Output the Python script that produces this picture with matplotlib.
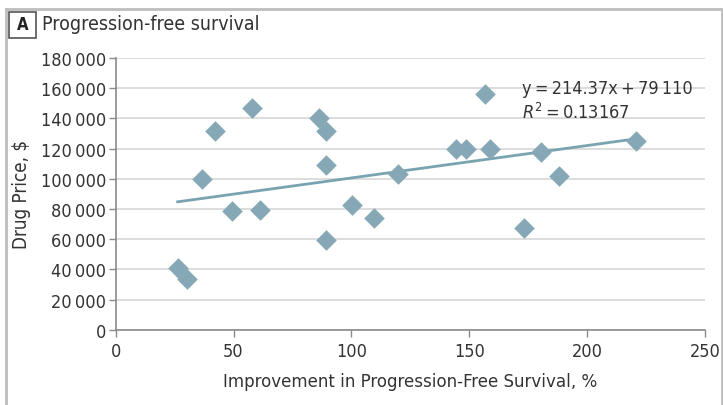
import matplotlib
matplotlib.use("Agg")
import matplotlib.pyplot as plt
from matplotlib.patches import Rectangle
from matplotlib.lines import Line2D
import numpy as np

plt.rcParams['font.family'] = ['DejaVu Sans']
plt.rcParams['font.stretch'] = 'condensed'

# Data
pfs_improvement = [26.3, 30.1, 36.5, 42.0, 49.2, 57.7, 61.1, 86.2, 89.1, 89.1, 89.1,
                   100.2, 109.5, 119.7, 144.3, 148.6, 156.6, 158.7, 173.2, 180.4, 188.0, 220.7]
drug_price = [41000, 33700, 100000, 131900, 78800, 147000, 79400, 140400, 131800, 109200, 59600,
              82700, 74100, 103200, 119800, 119800, 156200, 119800, 67500, 117800, 101900, 124800]
slope = 214.37
intercept = 79110
r_squared = 0.13167
x_ticks = [0, 50, 100, 150, 200, 250]
y_ticks = list(range(0, 180001, 20000))

COL = '#86A8B6'
LINE_COL = '#7AA3B2'
GRID = '#DADADA'
SPINE = '#8A8A8A'
TXT = '#333333'
TS = '\u2009'

fig = plt.figure(figsize=(7.23, 4.06), dpi=100)
ax = fig.add_axes([0.160, 0.185, 0.815, 0.670])

ax.scatter(pfs_improvement, drug_price, marker='D', s=110, color=COL, zorder=3, linewidths=0)
xf = np.array([min(pfs_improvement), max(pfs_improvement)])
ax.plot(xf, slope * xf + intercept, color=LINE_COL, lw=2, zorder=2)

ax.set_xlim(0, 250)
ax.set_ylim(0, 180000)
ax.set_xticks(x_ticks)
ax.set_yticks(y_ticks)
ax.set_yticklabels([f"{v:,}".replace(',', TS) for v in y_ticks])
ax.yaxis.grid(True, color=GRID, lw=1.3)
ax.set_axisbelow(True)
for s in ['top', 'right']:
    ax.spines[s].set_visible(False)
for s in ['left', 'bottom']:
    ax.spines[s].set_color(SPINE)
    ax.spines[s].set_linewidth(1.2)
ax.tick_params(axis='both', colors=SPINE, labelcolor=TXT, labelsize=13, length=5, width=1)
ax.tick_params(axis='y', pad=2)

ax.set_xlabel('Improvement in Progression-Free Survival, %', fontsize=13.3, color=TXT, labelpad=9)
ax.set_ylabel('Drug Price, $', fontsize=13.5, color=TXT, labelpad=7)

ax.text(172.5, 160000, f'y{TS}={TS}{slope}x{TS}+{TS}79{TS}110', fontsize=13, color=TXT, va='center')
ax.text(172.5, 144000, f'$R^2${TS}={TS}{r_squared}', fontsize=13, color=TXT, va='center')

# frame (left, top, right) and panel label
fw, fh = 723.0, 406.0
frame_col = '#BDBDBD'
fig.lines.append(Line2D([6.5 / fw, 6.5 / fw], [0, 1 - 9.5 / fh], transform=fig.transFigure,
                        color=frame_col, lw=2))
fig.lines.append(Line2D([5.5 / fw, 721.5 / fw], [1 - 9.5 / fh, 1 - 9.5 / fh], transform=fig.transFigure,
                        color=frame_col, lw=2))
fig.lines.append(Line2D([721.5 / fw, 721.5 / fw], [0, 1 - 9.5 / fh], transform=fig.transFigure,
                        color=frame_col, lw=2))
fig.patches.append(Rectangle((8.5 / fw, 1 - 38.5 / fh), 27.5 / fw, 26 / fh, transform=fig.transFigure,
                             fill=False, edgecolor='#555555', lw=1.2))
fig.text(22.3 / fw, 1 - 25.5 / fh, 'A', fontsize=12, fontweight='bold', ha='center', va='center', color='#222222')
fig.text(42 / fw, 1 - 24.5 / fh, 'Progression-free survival', fontsize=14, ha='left', va='center', color=TXT)

fig.savefig('out.png', dpi=100)
